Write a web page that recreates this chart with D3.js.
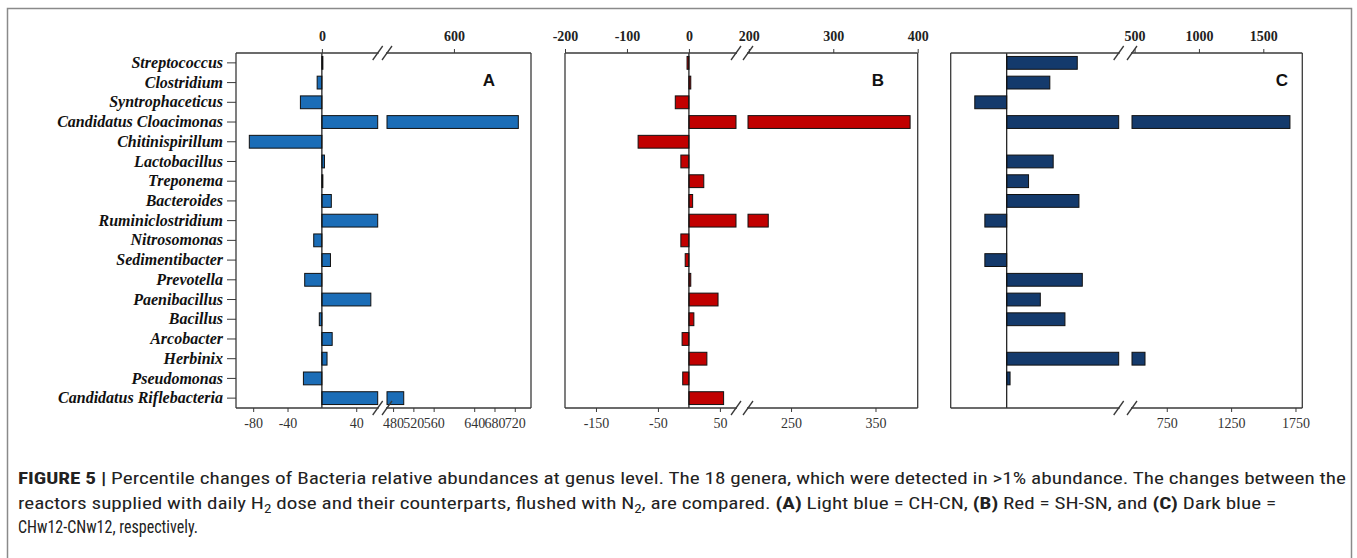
<!DOCTYPE html>
<html>
<head>
<meta charset="utf-8">
<script src="https://cdn.jsdelivr.net/npm/d3@7"></script>
<style>
  body { margin: 0; background: #fff; }
  svg { display: block; }
</style>
</head>
<body>
<div id="chart"></div>
<script>
var categories = ['Streptococcus', 'Clostridium', 'Syntrophaceticus', 'Candidatus Cloacimonas',
    'Chitinispirillum', 'Lactobacillus', 'Treponema', 'Bacteroides', 'Ruminiclostridium',
    'Nitrosomonas', 'Sedimentibacter', 'Prevotella', 'Paenibacillus', 'Bacillus',
    'Arcobacter', 'Herbinix', 'Pseudomonas', 'Candidatus Riflebacteria'];

// A: CH-CN, B: SH-SN, C: CHw12-CNw12 (percentile change)
var valuesA = [1, -5.5, -25, 727, -84.5, 3, 1, 11, 65, -9.5, 10, -20, 57, -3, 12, 6, -21.5, 501];
var valuesB = [-3, 3, -22, 391, -82, -13, 24, 6, 223, -13, -6, 3, 47, 8, -11, 29, -10, 56];
var valuesC = [126, 77, -57, 1707, 0, 83, 39, 129, -39, 0, -39, 135, 60, 104, 0, 581, 6, 0];

// broken axes: [min, end of left part, start of right part, max]
var domainA = [-100, 65, 468, 752];
var domainB = [-200, 76, 199, 400];
var domainC = [-100, 200, 480, 1803];

var topTicksA = [0, 600], bottomTicksA = [-80, -40, 40, 480, 520, 560, 640, 680, 720];
var topTicksB = [-200, -100, 0, 200, 300, 400], bottomTicksB = [-150, -50, 50, 250, 350];
var topTicksC = [500, 1000, 1500], bottomTicksC = [750, 1250, 1750];

var width = 1357, height = 558;
var top0 = 53, bot0 = 408;
var plain = function (d) { return String(d); };

var svg = d3.select('#chart').append('svg')
    .attr('width', width)
    .attr('height', height);

// outer figure border (open at the bottom)
svg.append('path')
    .attr('d', 'M7.5,' + (height + 5) + 'V8.5H1351.5V' + (height + 5))
    .attr('fill', 'none')
    .attr('stroke', '#8a8a8a')
    .attr('stroke-width', 1.5);

var y = d3.scaleBand()
    .domain(categories)
    .range([top0, bot0])
    .paddingInner(0.35)
    .paddingOuter(0.175);

var panels = [
    { key: 'A', values: valuesA, domain: domainA, range: [236, 377.7, 387, 531],
      topTicks: topTicksA, bottomTicks: bottomTicksA, color: '#1b6db7', letterX: 489 },
    { key: 'B', values: valuesB, domain: domainB, range: [565, 736, 748, 917.7],
      topTicks: topTicksB, bottomTicks: bottomTicksB, color: '#c10000', letterX: 878 },
    { key: 'C', values: valuesC, domain: domainC, range: [950.7, 1118.7, 1132, 1302.3],
      topTicks: topTicksC, bottomTicks: bottomTicksC, color: '#143a6c', letterX: 1282 }
];

panels.forEach(function (p) {
    var x = d3.scaleLinear().domain(p.domain).range(p.range);
    var g = svg.append('g');
    var lineColor = '#3a3a3a';

    // bars, split in two pieces when they cross the break
    var pieces = [];
    p.values.forEach(function (v, i) {
        if (v === 0) return;
        if (v > p.domain[1]) {
            pieces.push({ c: categories[i], a: 0, b: p.domain[1] });
            pieces.push({ c: categories[i], a: p.domain[2], b: v });
        } else {
            pieces.push({ c: categories[i], a: Math.min(0, v), b: Math.max(0, v) });
        }
    });

    g.selectAll('.bar')
        .data(pieces)
        .enter().append('rect')
        .attr('x', function (d) { return x(d.a); })
        .attr('width', function (d) { return Math.max(1, x(d.b) - x(d.a)); })
        .attr('y', function (d) { return y(d.c); })
        .attr('height', y.bandwidth())
        .attr('fill', p.color)
        .attr('stroke', '#111')
        .attr('stroke-width', 1);

    // zero line
    g.append('line')
        .attr('x1', x(0)).attr('x2', x(0))
        .attr('y1', top0).attr('y2', bot0)
        .attr('stroke', '#111')
        .attr('stroke-width', 1.2);

    // frame: sides full, top/bottom with a gap at the break
    var xl = p.range[0], xr = p.range[3], b1 = x(p.domain[1]), b2 = x(p.domain[2]);
    [top0, bot0].forEach(function (yy) {
        g.append('line').attr('x1', xl).attr('x2', b1 + 1).attr('y1', yy).attr('y2', yy);
        g.append('line').attr('x1', b2 - 1).attr('x2', xr).attr('y1', yy).attr('y2', yy);
        [b1, b2].forEach(function (bx) {
            g.append('line')
                .attr('x1', bx - 5).attr('y1', yy + 7)
                .attr('x2', bx + 5).attr('y2', yy - 7);
        });
    });
    g.append('line').attr('x1', xl).attr('x2', xl).attr('y1', top0).attr('y2', bot0);
    g.append('line').attr('x1', xr).attr('x2', xr).attr('y1', top0).attr('y2', bot0);
    g.selectAll('line').filter(function () { return !this.getAttribute('stroke'); })
        .attr('stroke', lineColor)
        .attr('stroke-width', 1.3);

    // top axis
    var ta = svg.append('g')
        .attr('transform', 'translate(0,' + top0 + ')')
        .call(d3.axisTop(x).tickValues(p.topTicks).tickFormat(plain).tickSize(4).tickPadding(8));
    ta.select('.domain').remove();
    ta.selectAll('line').attr('stroke', lineColor);
    ta.selectAll('text')
        .attr('font-family', '"Liberation Serif", "Times New Roman", serif')
        .attr('font-weight', 'bold')
        .attr('font-size', 14)
        .attr('fill', '#222');

    // bottom axis
    var ba = svg.append('g')
        .attr('transform', 'translate(0,' + bot0 + ')')
        .call(d3.axisBottom(x).tickValues(p.bottomTicks).tickFormat(plain).tickSize(4).tickPadding(6));
    ba.select('.domain').remove();
    ba.selectAll('line').attr('stroke', lineColor);
    ba.selectAll('text')
        .attr('font-family', '"Liberation Serif", "Times New Roman", serif')
        .attr('font-size', 14)
        .attr('fill', '#333');

    // panel letter
    svg.append('text')
        .attr('x', p.letterX)
        .attr('y', 86)
        .attr('text-anchor', 'middle')
        .attr('font-family', '"Liberation Sans", Arial, sans-serif')
        .attr('font-weight', 'bold')
        .attr('font-size', 17)
        .attr('fill', '#111')
        .text(p.key);
});

// genus labels on the left of panel A
var ya = svg.append('g')
    .attr('transform', 'translate(236,0)')
    .call(d3.axisLeft(y).tickSize(9).tickPadding(4));
ya.select('.domain').remove();
ya.selectAll('line').attr('stroke', '#3a3a3a');
ya.selectAll('text')
    .attr('font-family', '"Liberation Serif", "Times New Roman", serif')
    .attr('font-weight', 'bold')
    .attr('font-style', 'italic')
    .attr('font-size', 16)
    .attr('fill', '#111');

// caption
var cap = svg.append('g')
    .attr('font-family', '"Liberation Sans Narrow", "Roboto Condensed", Roboto, sans-serif')
    .attr('font-size', 17)
    .attr('fill', '#222');

var l1 = cap.append('text').attr('x', 18).attr('y', 484).attr('textLength', 1328).attr('lengthAdjust', 'spacingAndGlyphs');
l1.append('tspan').attr('font-weight', 'bold').text('FIGURE 5 | ');
l1.append('tspan').text('Percentile changes of Bacteria relative abundances at genus level. The 18 genera, which were detected in >1% abundance. The changes between the');

var l2 = cap.append('text').attr('x', 18).attr('y', 509).attr('textLength', 1258).attr('lengthAdjust', 'spacingAndGlyphs');
l2.append('tspan').text('reactors supplied with daily H');
l2.append('tspan').attr('font-size', 12).attr('dy', 4).text('2');
l2.append('tspan').attr('dy', -4).text(' dose and their counterparts, flushed with N');
l2.append('tspan').attr('font-size', 12).attr('dy', 4).text('2');
l2.append('tspan').attr('dy', -4).text(', are compared. ');
l2.append('tspan').attr('font-weight', 'bold').text('(A)');
l2.append('tspan').text(' Light blue = CH-CN, ');
l2.append('tspan').attr('font-weight', 'bold').text('(B)');
l2.append('tspan').text(' Red = SH-SN, and ');
l2.append('tspan').attr('font-weight', 'bold').text('(C)');
l2.append('tspan').text(' Dark blue =');

cap.append('text').attr('x', 18).attr('y', 533)
    .attr('font-size', 18)
    .attr('textLength', 180).attr('lengthAdjust', 'spacingAndGlyphs')
    .text('CHw12-CNw12, respectively.');
</script>
</body>
</html>
